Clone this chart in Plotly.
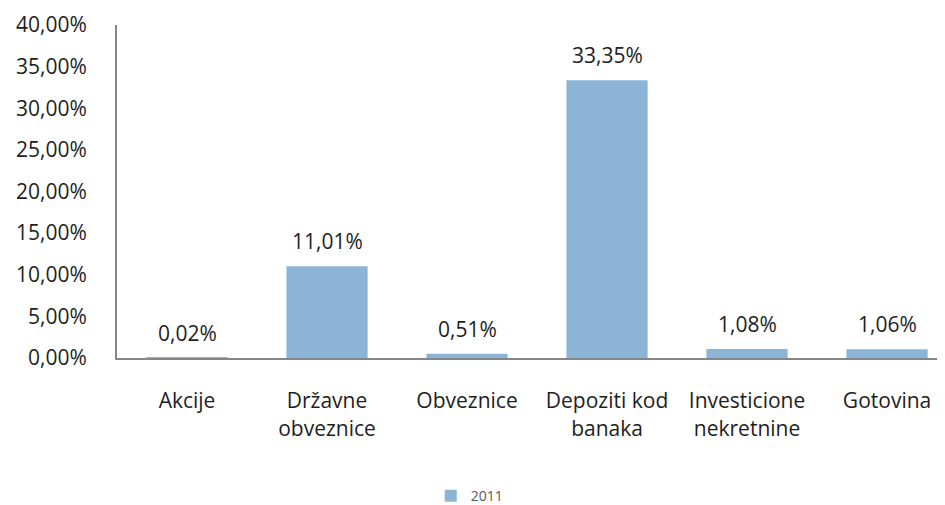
import plotly.graph_objects as go

categories = ['Akcije', 'Državne<br>obveznice', 'Obveznice', 'Depoziti kod<br>banaka',
              'Investicione<br>nekretnine', 'Gotovina']
values_2011 = [0.02, 11.01, 0.51, 33.35, 1.08, 1.06]
y_ticks = [0, 5, 10, 15, 20, 25, 30, 35, 40]

bar_color = '#8CB4D7'
axis_color = '#868686'
text_color = '#1e1e1e'
font_family = 'Open Sans, sans-serif'

fig = go.Figure()

fig.add_trace(go.Bar(
    x=list(range(len(categories))),
    y=values_2011,
    name='2011',
    marker=dict(color=bar_color, line=dict(width=0)),
    width=0.58,
))

# data labels above the bars
for i, v in enumerate(values_2011):
    fig.add_annotation(
        x=i, y=v, text=f"{v:.2f}".replace('.', ',') + '%',
        showarrow=False, yanchor='bottom', yshift=9,
        font=dict(size=21, color=text_color, family=font_family),
    )

# page body has an 8px margin, so the figure is shrunk to fit the window
fig.update_layout(
    width=937, height=497,
    margin=dict(l=109, r=0, t=17, b=147, autoexpand=False),
    plot_bgcolor='white', paper_bgcolor='white',
    showlegend=True,
    legend=dict(orientation='h', x=0.426, xanchor='center', y=-0.415, yanchor='middle',
                font=dict(size=14, color='#595959', family=font_family)),
    font=dict(family=font_family, size=21, color=text_color),
)

fig.update_xaxes(
    range=[-0.5, 5.414],
    tickvals=list(range(len(categories))),
    ticktext=categories,
    showline=True, linecolor=axis_color, linewidth=2,
    showgrid=False, ticks='', ticklabelstandoff=23, automargin=False,
    tickfont=dict(size=21, color=text_color),
)

fig.update_yaxes(
    range=[0, 40],
    tickvals=y_ticks,
    ticktext=[f"{t:.2f}".replace('.', ',') + '%' for t in y_ticks],
    showline=True, linecolor=axis_color, linewidth=2,
    showgrid=False, zeroline=False, ticks='', ticklabelstandoff=24, automargin=False,
    tickfont=dict(size=21, color=text_color),
)

fig.write_html("out.html")
